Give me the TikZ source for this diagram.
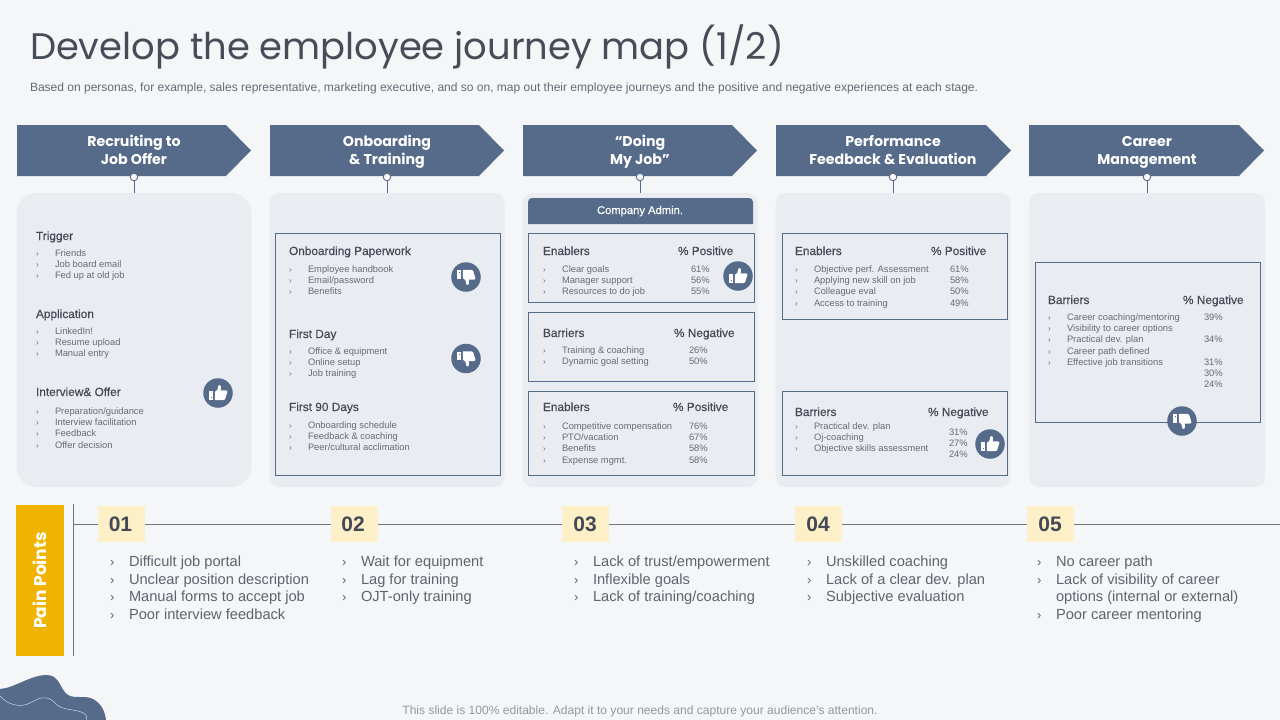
\documentclass[tikz,border=0pt]{standalone}
\usepackage{fontspec}
\setmainfont{Liberation Sans}
\newfontfamily\hdrfont{Poppins}
\newfontfamily\subfont[FakeBold=0.3]{Liberation Sans}
\definecolor{bgc}{HTML}{F5F6F8}
\definecolor{navy}{HTML}{566A8A}
\definecolor{panelc}{HTML}{E9EDF2}
\definecolor{txtc}{HTML}{666A75}
\definecolor{paintc}{HTML}{5F636E}
\definecolor{headc}{HTML}{444955}
\definecolor{titlec}{HTML}{464C58}
\definecolor{yel}{HTML}{F0B400}
\definecolor{cream}{HTML}{FDF0C8}
\definecolor{linec}{HTML}{6E7482}
\newcounter{nn}
\tikzset{
  tx/.style={inner sep=0pt,outer sep=0pt},
  smalltx/.style={tx,text=txtc,font=\fontsize{9.35}{10}\selectfont},
  bul/.style={tx,text=txtc,font=\fontsize{8}{10}\selectfont},
  headtx/.style={tx,text=headc,font=\subfont\fontsize{11.85}{12}\selectfont},
  paintx/.style={tx,text=paintc,font=\fontsize{14.65}{18}\selectfont},
  painbul/.style={tx,text=paintc,font=\fontsize{13}{18}\selectfont},
  hdrtx/.style={tx,text=white,align=center,font=\hdrfont\bfseries\fontsize{14.2}{18}\selectfont},
  panel/.style={fill=panelc,draw=none,rounded corners=10pt,inner sep=0pt,outer sep=0pt},
  outlinebox/.style={draw=navy,line width=0.9pt,fill=none,inner sep=0pt,outer sep=0pt},
  joint/.style={circle,draw=navy,fill=white,line width=0.9pt,minimum size=7.5pt,inner sep=0pt},
  thumbc/.style={circle,fill=navy,minimum size=29.5pt,inner sep=0pt},
  numbox/.style={fill=cream,inner sep=0pt,minimum width=47pt,minimum height=36pt},
  numtx/.style={tx,text=headc,font=\bfseries\fontsize{21}{24}\selectfont},
}
\newcommand\Tx[4]{\stepcounter{nn}\node[#1,anchor=base west] (t\arabic{nn}) at (#2,#3) {#4};}
\newcommand\Li[3]{\Tx{bul}{#1-19}{#2}{›}\Tx{smalltx}{#1}{#2}{#3}}
\newcommand\Hd[3]{\Tx{headtx}{#1}{#2}{#3}}
\newcommand\Pc[3]{\Tx{smalltx}{#1}{#2}{#3}}
\newcommand\Pn[3]{\Tx{painbul}{#1-19}{#2}{›}\Tx{paintx}{#1}{#2}{#3}}
\newcommand\Num[3]{\node[numbox] (n#3) at (#1,524) {};\node[numtx] (m#3) at (#2,524) {0#3};}
\newcommand\Stage[8]{%
  \fill[navy] (#1,125) -- (#2,125) -- (#3,150.5) -- (#2,176) -- (#1,176) -- cycle;
  \node[hdrtx] (hd#7) at (#4,152) {\strut #5\\\strut #6};
  \node[panel,#8] (pn#7) at (#4,340) {};
}
\newcommand\Thumb[4]{%
  \node[thumbc] (#1) at (#2,#3) {};
  \begin{scope}[shift={(#1.center)},yscale=#4]
    \fill[white] (-8.8,-1.6) rectangle (-4.8,6.8);
    \fill[navy] (-7.3,3.6) rectangle (-6.3,4.8);
    \fill[white] (-3.2,-1) -- (-0.6,-3.2) -- (0.4,-7.4) .. controls (1,-8.4) and (2.6,-8) .. (2.9,-6.6) -- (2.7,-2.6) -- (8,-2.6) .. controls (9.2,-2.6) and (9.6,-1.6) .. (9.3,-0.8) -- (7.2,6) .. controls (7,6.9) and (6.4,7.2) .. (5.6,7.2) -- (-3.2,7) -- cycle;
  \end{scope}
}
\begin{document}
\begin{tikzpicture}[x=1pt,y=-1pt]
\useasboundingbox (0,0) rectangle (1280,720);
\fill[bgc] (0,0) rectangle (1280,720);
\Tx{tx,text=titlec,font=\hdrfont\fontsize{36.9}{40}\selectfont}{30}{59}{Develop the employee journey map (1/2)}
\Tx{tx,text=txtc,font=\fontsize{12.02}{14}\selectfont}{30}{91.5}{Based on personas, for example, sales representative, marketing executive, and so on, map out their employee journeys and the positive and negative experiences at each stage.}
\Stage{17}{226}{251}{134}{Recruiting to}{Job Offer}{a}{minimum width=235pt,minimum height=294pt,rounded corners=20pt}
\Stage{270}{479}{504}{387}{Onboarding}{\& Training}{b}{minimum width=235pt,minimum height=294pt}
\Stage{523}{732}{757}{640}{“Doing}{My Job”}{c}{minimum width=235pt,minimum height=294pt}
\Stage{776}{986}{1011}{893}{Performance}{Feedback \& Evaluation}{d}{minimum width=235pt,minimum height=294pt}
\Stage{1029}{1239}{1264}{1147}{Career}{Management}{e}{minimum width=236pt,minimum height=294pt}
\foreach \s/\x in {a/134,b/387,c/640,d/893,e/1147}{
  \node[joint] (j\s) at (\x,177) {};
  \draw[navy,line width=0.9pt] (j\s) -- (j\s |- pn\s.north);
}
% column 1
\Hd{36}{240}{Trigger}
\Li{55}{256.5}{Friends}\Li{55}{267.5}{Job board email}\Li{55}{278.5}{Fed up at old job}
\Hd{36}{318}{Application}
\Li{55}{334.5}{LinkedIn!}\Li{55}{345.5}{Resume upload}\Li{55}{356.5}{Manual entry}
\Hd{36}{396}{Interview\& Offer}
\Li{55}{414}{Preparation/guidance}\Li{55}{425}{Interview facilitation}\Li{55}{436}{Feedback}\Li{55}{448}{Offer decision}
\Thumb{th1}{218}{393}{1}
% column 2
\node[outlinebox,minimum width=225pt,minimum height=242pt] (bx1) at (388,354.5) {};
\Hd{289}{255}{Onboarding Paperwork}
\Li{308}{272}{Employee handbook}\Li{308}{283}{Email/password}\Li{308}{294}{Benefits}
\Hd{289}{338}{First Day}
\Li{308}{354}{Office \& equipment}\Li{308}{365}{Online setup}\Li{308}{376}{Job training}
\Hd{289}{411}{First 90 Days}
\Li{308}{428}{Onboarding schedule}\Li{308}{439}{Feedback \& coaching}\Li{308}{450}{Peer/cultural acclimation}
\Thumb{th2}{466}{277}{-1}
\Thumb{th3}{466}{358.5}{-1}
% column 3
\fill[navy,rounded corners=4pt] (528,224) [sharp corners] -- (528,210) [rounded corners=4pt] -- (528,198) -- (753,198) -- (753,210) [sharp corners] -- (753,224) -- cycle;
\node[tx,anchor=base,text=white,font=\subfont\fontsize{11.2}{12}\selectfont] (adm) at (640,214) {Company Admin.};
\node[outlinebox,minimum width=226pt,minimum height=69pt] (bx2) at (641,268) {};
\node[outlinebox,minimum width=226pt,minimum height=69.5pt] (bx3) at (641,346.75) {};
\node[outlinebox,minimum width=226pt,minimum height=84.5pt] (bx4) at (641,433.25) {};
\Hd{543}{255}{Enablers}\Hd{678}{255}{\% Positive}
\Li{562}{272}{Clear goals}\Li{562}{283}{Manager support}\Li{562}{294}{Resources to do job}
\Pc{691}{272}{61\%}\Pc{691}{283}{56\%}\Pc{691}{294}{55\%}
\Thumb{th4}{738}{276}{1}
\Hd{543}{337}{Barriers}\Hd{674}{337}{\% Negative}
\Li{562}{353}{Training \& coaching}\Li{562}{364}{Dynamic goal setting}
\Pc{689}{353}{26\%}\Pc{689}{364}{50\%}
\Hd{543}{411}{Enablers}\Hd{673}{411}{\% Positive}
\Li{562}{429}{Competitive compensation}\Li{562}{440}{PTO/vacation}\Li{562}{451}{Benefits}\Li{562}{463}{Expense mgmt.}
\Pc{689}{429}{76\%}\Pc{689}{440}{67\%}\Pc{689}{451}{58\%}\Pc{689}{463}{58\%}
% column 4
\node[outlinebox,minimum width=225pt,minimum height=86pt] (bx5) at (895,276.5) {};
\node[outlinebox,minimum width=225pt,minimum height=84.5pt] (bx6) at (895,433.25) {};
\Hd{795}{255}{Enablers}\Hd{931}{255}{\% Positive}
\Li{814}{272}{Objective perf. Assessment}\Li{814}{283}{Applying new skill on job}\Li{814}{294}{Colleague eval}\Li{814}{306}{Access to training}
\Pc{950}{272}{61\%}\Pc{950}{283}{58\%}\Pc{950}{294}{50\%}\Pc{950}{306}{49\%}
\Hd{795}{416}{Barriers}\Hd{928}{416}{\% Negative}
\Li{814}{429}{Practical dev. plan}\Li{814}{440}{Oj-coaching}\Li{814}{451}{Objective skills assessment}
\Pc{949}{435}{31\%}\Pc{949}{446}{27\%}\Pc{949}{457}{24\%}
\Thumb{th5}{990}{444}{1}
% column 5
\node[outlinebox,minimum width=225.5pt,minimum height=160pt] (bx7) at (1147.75,342.5) {};
\Hd{1048}{304}{Barriers}\Hd{1183}{304}{\% Negative}
\Li{1067}{320}{Career coaching/mentoring}\Li{1067}{331}{Visibility to career options}\Li{1067}{342}{Practical dev. plan}\Li{1067}{354}{Career path defined}\Li{1067}{365}{Effective job transitions}
\Pc{1204}{320}{39\%}\Pc{1204}{342}{34\%}\Pc{1204}{365}{31\%}\Pc{1204}{376}{30\%}\Pc{1204}{387}{24\%}
\Thumb{th6}{1182}{421}{-1}
% pain points
\node[fill=yel,minimum width=48pt,minimum height=151pt,inner sep=0pt] (pain) at (40,580.5) {};
\node[tx,text=white,rotate=90,font=\hdrfont\bfseries\fontsize{17}{18}\selectfont] (paint) at (pain.center) {Pain Points};
\coordinate (vt) at (73.5,504);
\coordinate (vb) at (73.5,656);
\coordinate (hl) at (73.5,524.5);
\coordinate (hr) at (1280,524.5);
\draw[linec,line width=0.9pt] (vt) -- (vb);
\draw[linec,line width=0.9pt] (hl) -- (hr);
\Num{121.5}{120.5}{1}\Num{354.5}{353}{2}\Num{585.5}{585}{3}\Num{818.5}{818}{4}\Num{1050.5}{1050}{5}
\Pn{129}{566}{Difficult job portal}\Pn{129}{584}{Unclear position description}\Pn{129}{601}{Manual forms to accept job}\Pn{129}{619}{Poor interview feedback}
\Pn{361}{566}{Wait for equipment}\Pn{361}{584}{Lag for training}\Pn{361}{601}{OJT-only training}
\Pn{593}{566}{Lack of trust/empowerment}\Pn{593}{584}{Inflexible goals}\Pn{593}{601}{Lack of training/coaching}
\Pn{826}{566}{Unskilled coaching}\Pn{826}{584}{Lack of a clear dev. plan}\Pn{826}{601}{Subjective evaluation}
\Pn{1056}{566}{No career path}\Pn{1056}{584}{Lack of visibility of career}\Tx{paintx}{1056}{601}{options (internal or external)}\Pn{1056}{619}{Poor career mentoring}
\node[tx,anchor=base,text=txtc!70!white,font=\fontsize{12.05}{14}\selectfont] (foot) at (640,714) {This slide is 100\% editable. Adapt it to your needs and capture your audience's attention.};
% blob
\fill[navy] (0,689) .. controls (15,688) and (30,675) .. (47,675) .. controls (60,675) and (60,690) .. (68,695) .. controls (75,699) and (85,695) .. (93,699) .. controls (102,704) and (105,712) .. (106,720) -- (0,720) -- cycle;
\draw[white!70!navy,line width=0.5pt] (0,696) .. controls (8,705) and (20,708) .. (30,703) .. controls (40,697) and (48,695) .. (55,703) .. controls (62,712) and (80,708) .. (86,715) -- (87,720);
\end{tikzpicture}
\end{document}
